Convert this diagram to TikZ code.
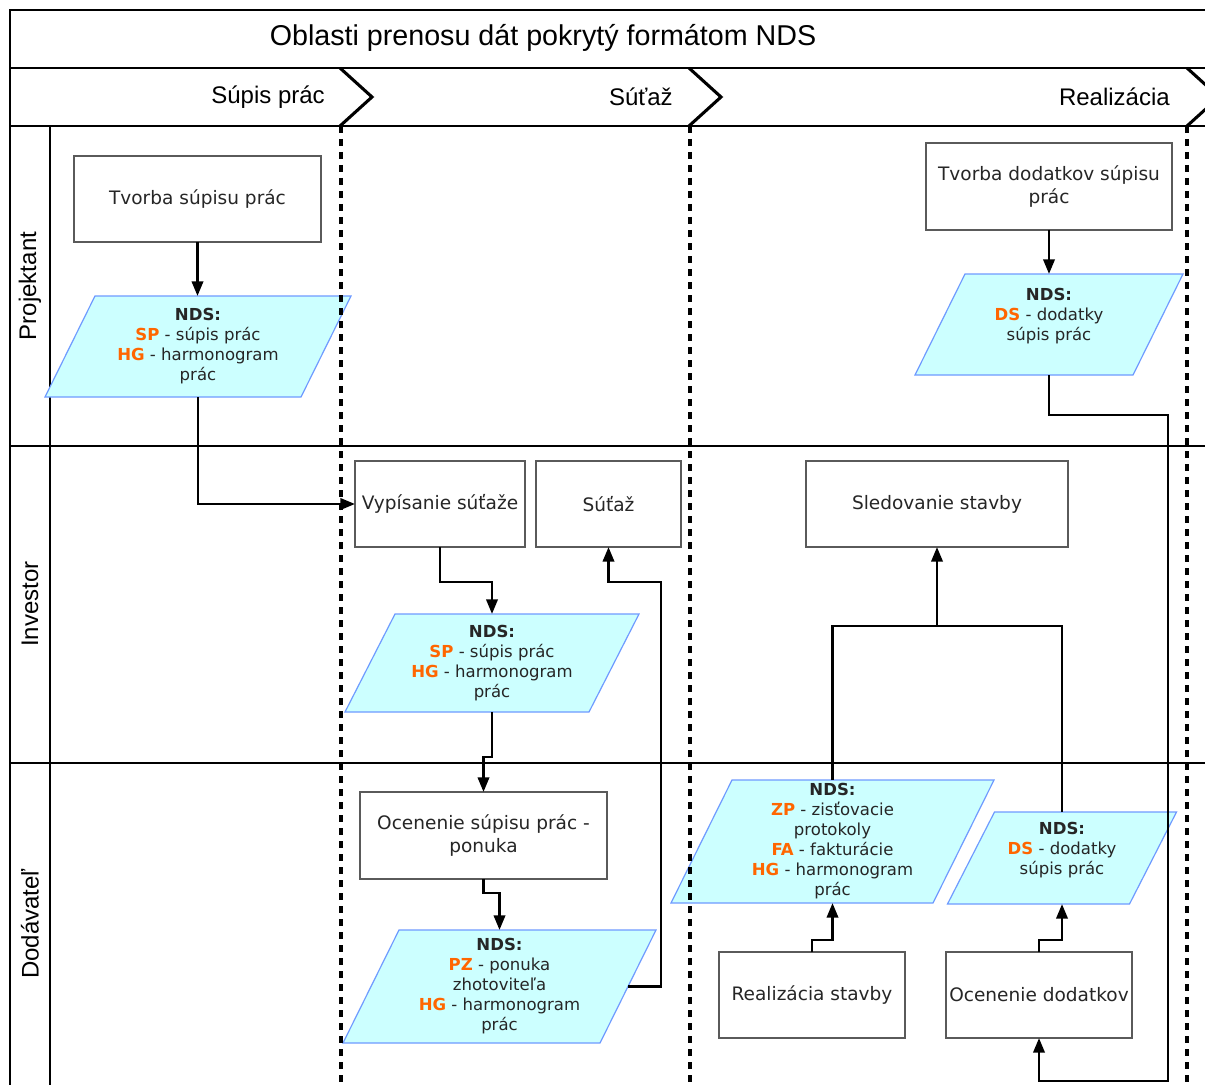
\documentclass[tikz,border=0pt]{standalone}
\usepackage{fontspec}
\setmainfont{DejaVu Sans}
\newfontfamily\hdrfont{Liberation Sans}
\usetikzlibrary{arrows.meta,calc}
\definecolor{orng}{HTML}{FF6600}
\definecolor{pfill}{HTML}{CCFFFF}
\definecolor{pline}{HTML}{6F9BFF}
\definecolor{boxline}{HTML}{5A5A5A}
\newcommand\og[1]{\textcolor{orng}{\textbf{#1}}}
% name, cx, cy, width, height, slant half-offset, text
\newcommand\mypara[7]{%
  \path[para] (#2-#4/2+#6,#3-#5/2) -- (#2+#4/2+#6,#3-#5/2) -- (#2+#4/2-#6,#3+#5/2) -- (#2-#4/2-#6,#3+#5/2) -- cycle;
  \node[ptext, minimum width=#4*0.75pt, minimum height=#5*0.75pt] (#1) at (#2,#3) {#7};
}
\begin{document}
\begin{tikzpicture}[x=0.75pt,y=-0.75pt,
  frame/.style={draw=black,line width=0.8pt},
  box/.style 2 args={draw=boxline, line width=0.8pt, fill=white, minimum width=#1*0.75pt, minimum height=#2*0.75pt, inner sep=0pt, outer sep=0pt, align=center, font=\fontsize{13.9}{17}\selectfont, text=black!85},
  ptext/.style={inner sep=0pt, outer sep=0pt, align=center, font=\fontsize{12.4}{15}\selectfont, text=black!85},
  para/.style={fill=pfill, draw=pline, line width=0.9pt},
  conn/.style={line width=2pt, -{Triangle[length=11pt,width=8.5pt]}},
  plain/.style={line width=2pt},
  chev/.style={line width=2.3pt, line join=miter},
  phase/.style={font=\hdrfont\fontsize{18}{20}\selectfont, anchor=east, inner sep=0pt},
  lane/.style={font=\hdrfont\fontsize{18}{20}\selectfont, rotate=90, inner sep=0pt},
  sep/.style={line width=3pt, dash pattern=on 5pt off 4.75pt}
]
\useasboundingbox (0,0) rectangle (1205,1084);
\clip (0,0) rectangle (1205,1084);
\fill[white] (0,0) rectangle (1205,1084);

% frame
\draw[frame] (1210,10) -- (10,10) -- (10,1090);
\draw[frame] (10,68) -- (1210,68);
\draw[frame] (10,126) -- (1210,126);
\draw[frame] (10,446) -- (1210,446);
\draw[frame] (10,763) -- (1210,763);
\draw[frame] (50,126) -- (50,1090);

% headers
\node[font=\hdrfont\fontsize{21.5}{24}\selectfont, inner sep=0pt] (title) at (543,38) {Oblasti prenosu dát pokrytý formátom NDS};
\node[phase] (ph1) at (325,97) {Súpis prác};
\node[phase] (ph2) at (673,97) {Súťaž};
\node[phase] (ph3) at (1170,97) {Realizácia};
\node[lane] (l1) at (30,286) {Projektant};
\node[lane] (l2) at (30,604) {Investor};
\node[lane] (l3) at (30,924) {Dodávateľ};

% chevrons
\draw[chev] (340,68) -- (372,97) -- (340,126);
\draw[chev] (689,68) -- (721,97) -- (689,126);
\draw[chev] (1187,68) -- (1219,97) -- (1187,126);

% rectangles
\node[box={247}{86}] (t1) at (197.5,199) {Tvorba súpisu prác};
\node[box={246}{87}] (t2) at (1049,186.5) {Tvorba dodatkov súpisu\\prác};
\node[box={170}{86}] (v) at (440,504) {Vypísanie súťaže};
\node[box={145}{86}] (s) at (608.5,504) {Súťaž};
\node[box={262}{86}] (sl) at (937,504) {Sledovanie stavby};
\node[box={247}{87}] (o) at (483.5,835.5) {Ocenenie súpisu prác -\\ponuka};
\node[box={186}{86}] (r) at (812,995) {Realizácia stavby};
\node[box={186}{86}] (od) at (1039,995) {Ocenenie dodatkov};

% parallelograms
\mypara{p1}{198}{346.5}{256}{101}{25}{\textbf{NDS:}\\\og{SP} - súpis prác\\\og{HG} - harmonogram\\prác}
\mypara{ds1}{1049}{324.5}{218}{101}{25}{\textbf{NDS:}\\\og{DS} - dodatky\\súpis prác\\\mbox{}}
\mypara{pi}{492}{663}{244}{98}{25}{\textbf{NDS:}\\\og{SP} - súpis prác\\\og{HG} - harmonogram\\prác}
\mypara{pz}{499.5}{986.5}{257}{113}{28}{\textbf{NDS:}\\\og{PZ} - ponuka\\zhotoviteľa\\\og{HG} - harmonogram\\prác}
\mypara{zp}{832.5}{841.5}{262}{123}{30.5}{\textbf{NDS:}\\\og{ZP} - zisťovacie\\protokoly\\\og{FA} - fakturácie\\\og{HG} - harmonogram\\prác}
\mypara{ds2}{1062}{858}{182}{92}{23.5}{\textbf{NDS:}\\\og{DS} - dodatky\\súpis prác\\\mbox{}}

% connectors
\coordinate (j) at (937,626);
\draw[conn] (t1.south) -- (t1.south |- p1.north);
\draw[conn] (p1.south) |- (v.west);
\draw[conn] (v.south) -- (v.south |- 0,582) -| (pi.north);
\draw[conn] (pi.south) -- (pi.south |- 0,757) -| (o.north);
\draw[conn] (o.south) -- (o.south |- 0,893) -| (pz.north);
\draw[conn] (pz.east) -| (661,582) -| (s.south);
\draw[conn] (r.north) -- (r.north |- 0,940) -| (zp.south);
\draw[plain] (zp.north) |- (j);
\draw[plain] (ds2.north) |- (j);
\draw[conn] (j) -- (sl.south);
\draw[conn] (od.north) -- (od.north |- 0,940) -| (ds2.south);
\draw[conn] (t2.south) -- (ds1.north);
\draw[conn] (ds1.south) |- (1168,415) -- (1168,1081) -| (od.south);

% phase separators
\draw[sep] (341,126) -- (341,1090);
\draw[sep] (690,126) -- (690,1090);
\draw[sep] (1187,126) -- (1187,1090);
\end{tikzpicture}
\end{document}
